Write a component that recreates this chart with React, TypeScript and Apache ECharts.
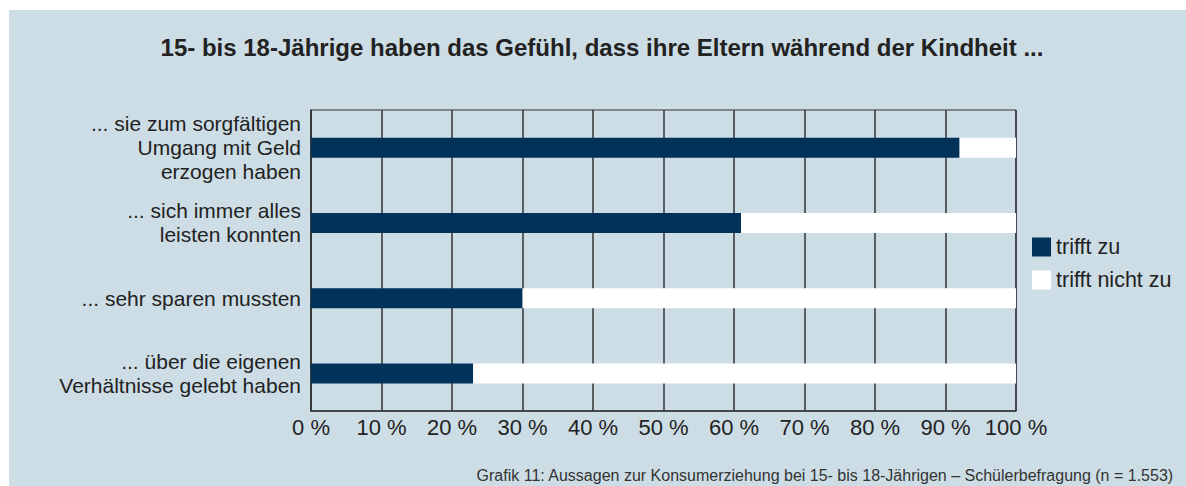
import React, { useEffect, useRef } from "react";
import * as echarts from "echarts";

const categories = [
  "... sie zum sorgfältigen\nUmgang mit Geld\nerzogen haben",
  "... sich immer alles\nleisten konnten",
  "... sehr sparen mussten",
  "... über die eigenen\nVerhältnisse gelebt haben",
];
const trifftZu = [92, 61, 30, 23];
const trifftNichtZu = [8, 39, 70, 77];
const seriesNames = ["trifft zu", "trifft nicht zu"];
const titleText = "15- bis 18-Jährige haben das Gefühl, dass ihre Eltern während der Kindheit ...";
const footerText =
  "Grafik 11: Aussagen zur Konsumerziehung bei 15- bis 18-Jährigen – Schülerbefragung (n = 1.553)";

const FONT = "'Liberation Sans', Arial, Helvetica, sans-serif";

export default function App() {
  const ref = useRef<HTMLDivElement>(null);
  useEffect(() => {
    document.body.style.margin = "0";
    const chart = echarts.init(ref.current!, null, { renderer: "svg" });
    chart.setOption({
      animation: false,
      backgroundColor: "#ffffff",
      textStyle: { fontFamily: FONT },
      graphic: [
        {
          type: "rect",
          z: -10,
          silent: true,
          shape: { x: 9, y: 10, width: 1177, height: 476 },
          style: { fill: "#cddde5" },
        },
        {
          type: "text",
          right: 12,
          top: 467,
          style: { text: footerText, fontSize: 16, fill: "#333", fontFamily: FONT },
        },
      ],
      title: {
        text: titleText,
        left: 597,
        textAlign: "center",
        top: 30,
        textStyle: { fontSize: 24, fontWeight: "bold", color: "#222", fontFamily: FONT },
      },
      legend: {
        orient: "vertical",
        left: 1032,
        top: 236,
        itemWidth: 19,
        itemHeight: 19,
        itemGap: 11,
        icon: "rect",
        padding: 0,
        data: seriesNames,
        textStyle: { fontSize: 21.5, lineHeight: 19, color: "#222", fontFamily: FONT },
      },
      grid: {
        left: 311,
        right: 170,
        top: 110,
        bottom: 75,
        show: true,
        borderColor: "#333",
        borderWidth: 1,
        backgroundColor: "transparent",
      },
      xAxis: {
        type: "value",
        min: 0,
        max: 100,
        interval: 10,
        axisLine: { show: true, lineStyle: { color: "#333", width: 1.5 } },
        axisTick: { show: false },
        splitLine: { show: true, lineStyle: { color: "#333", width: 1.5 } },
        axisLabel: {
          formatter: "{value} %",
          fontSize: 22,
          color: "#222",
          margin: 5,
          fontFamily: FONT,
        },
      },
      yAxis: {
        type: "category",
        inverse: true,
        data: categories,
        axisLine: { show: true, lineStyle: { color: "#333", width: 1.5 } },
        axisTick: { show: false },
        axisLabel: {
          fontSize: 21,
          lineHeight: 24,
          color: "#222",
          margin: 10,
          align: "right",
          fontFamily: FONT,
        },
      },
      series: [
        {
          name: seriesNames[0],
          type: "bar",
          stack: "total",
          data: trifftZu,
          barWidth: 20,
          itemStyle: { color: "#00325a" },
        },
        {
          name: seriesNames[1],
          type: "bar",
          stack: "total",
          data: trifftNichtZu,
          barWidth: 20,
          itemStyle: { color: "#ffffff" },
        },
      ],
    });
    return () => chart.dispose();
  }, []);
  return <div ref={ref} style={{ width: 1186, height: 486 }} />;
}
